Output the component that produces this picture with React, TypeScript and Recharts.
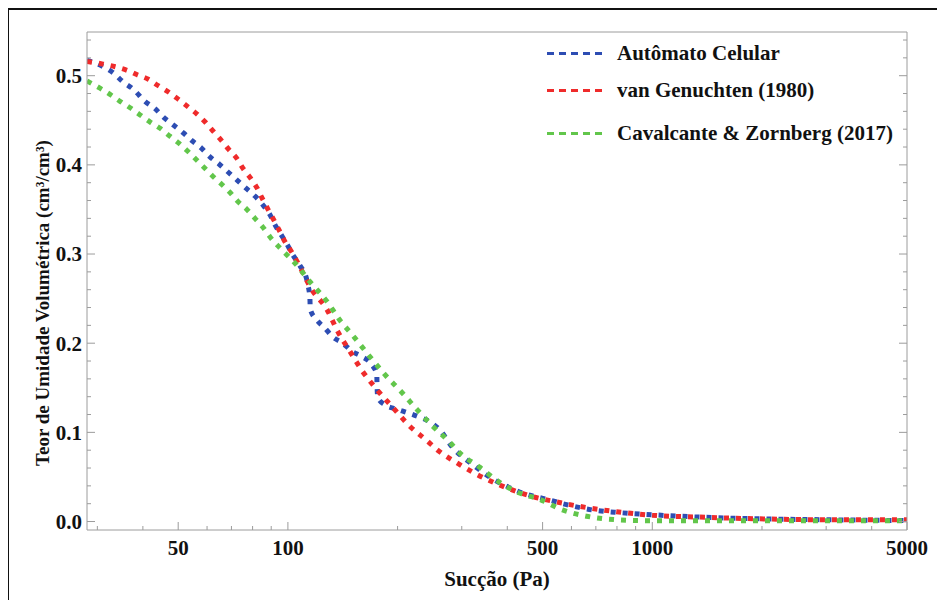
import React from 'react';
import { LineChart, Line, XAxis, YAxis, Legend } from 'recharts';

// Sucção (Pa) / teor de umidade
const automatoSuccao = [28.1, 29.2, 31.5, 33.2, 35.3, 37.6, 40.6, 43.2, 45.7, 48.4, 51.6, 54.6, 57.8, 61.1, 64.7, 68.5, 72.5, 76.7, 81.2, 85.4, 89.3, 92.1, 95.7, 99.4, 103.2, 107.9, 112.4, 113.4, 114.9, 115.2, 120.1, 126.3, 132.8, 141.5, 149.8, 159.5, 169.9, 175.4, 175.6, 176.5, 184.4, 199.0, 213.2, 229.9, 244.9, 260.8, 283.2, 321.3, 357.6, 405.7, 440.4, 512.4, 581.3, 684.7, 812.1, 963, 1345, 1965, 3000, 5000];
const automatoTeor = [0.517, 0.515, 0.509, 0.503, 0.493, 0.485, 0.471, 0.463, 0.453, 0.445, 0.436, 0.427, 0.419, 0.409, 0.401, 0.392, 0.383, 0.374, 0.365, 0.355, 0.344, 0.333, 0.322, 0.311, 0.299, 0.287, 0.273, 0.266, 0.251, 0.238, 0.226, 0.217, 0.207, 0.200, 0.191, 0.185, 0.176, 0.165, 0.154, 0.139, 0.131, 0.126, 0.122, 0.117, 0.112, 0.103, 0.083, 0.064, 0.050, 0.038, 0.032, 0.025, 0.019, 0.013, 0.010, 0.008, 0.005, 0.003, 0.002, 0.001];

const genuchtenSuccao = [28.1, 31.1, 33.6, 36.2, 38.6, 41.4, 44.0, 46.9, 49.9, 53.2, 56.3, 59.3, 62.3, 65.5, 68.9, 72.5, 75.3, 78.7, 82.3, 84.9, 88.2, 92.1, 95.1, 98.1, 102.5, 106.5, 116.3, 127.9, 137.1, 147.9, 160.5, 175.4, 194.0, 215.9, 241.8, 255.9, 290.4, 329.5, 380.9, 469.1, 545.8, 631, 796.9, 1000, 1345, 1965, 3000, 5000];
const genuchtenTeor = [0.516, 0.513, 0.510, 0.506, 0.501, 0.496, 0.489, 0.482, 0.474, 0.465, 0.457, 0.448, 0.438, 0.428, 0.417, 0.407, 0.396, 0.386, 0.374, 0.363, 0.350, 0.336, 0.325, 0.314, 0.302, 0.290, 0.260, 0.238, 0.213, 0.191, 0.168, 0.148, 0.128, 0.107, 0.090, 0.081, 0.066, 0.053, 0.041, 0.028, 0.022, 0.017, 0.011, 0.007, 0.005, 0.003, 0.002, 0.002];

const cavalcanteSuccao = [28.1, 30.5, 32.5, 34.7, 36.9, 39.3, 41.9, 44.6, 47.5, 50.3, 53.2, 56.0, 58.9, 62.3, 65.9, 69.4, 72.9, 77.2, 81.2, 85.4, 89.8, 94.5, 99.4, 104.5, 114.9, 127.9, 138.8, 152.6, 167.8, 184.4, 205.3, 225.6, 249.5, 277.9, 296.0, 335.7, 380.9, 432.1, 490.2, 566.8, 659.5, 796.9, 963, 2000, 5000];
const cavalcanteTeor = [0.494, 0.486, 0.479, 0.471, 0.464, 0.456, 0.448, 0.441, 0.432, 0.424, 0.415, 0.406, 0.397, 0.387, 0.378, 0.369, 0.359, 0.350, 0.340, 0.330, 0.318, 0.308, 0.299, 0.290, 0.269, 0.247, 0.226, 0.206, 0.185, 0.165, 0.145, 0.126, 0.107, 0.089, 0.077, 0.061, 0.044, 0.032, 0.025, 0.013, 0.006, 0.002, 0.001, 0.001, 0.001];

const xTicks = [30, 40, 50, 60, 70, 80, 90, 100, 200, 300, 400, 500, 600, 700, 800, 900, 1000, 2000, 3000, 4000, 5000];
const xMajor = [50, 100, 500, 1000, 5000];
const yTicks = [0, 0.02, 0.04, 0.06, 0.08, 0.1, 0.12, 0.14, 0.16, 0.18, 0.2, 0.22, 0.24, 0.26, 0.28, 0.3, 0.32, 0.34, 0.36, 0.38, 0.4, 0.42, 0.44, 0.46, 0.48, 0.5, 0.52, 0.54];

const series = [
  { name: 'Autômato Celular', color: '#2d4db3', xs: automatoSuccao, ys: automatoTeor },
  { name: 'van Genuchten (1980)', color: '#ef2b2b', xs: genuchtenSuccao, ys: genuchtenTeor },
  { name: 'Cavalcante & Zornberg (2017)', color: '#62c64b', xs: cavalcanteSuccao, ys: cavalcanteTeor },
];

const FONT = '"Liberation Serif", "Times New Roman", serif';
const AXIS = '#9c9c9c';

const isMajorX = (v: number) => xMajor.includes(v);
const isMajorY = (v: number) => Math.abs(v * 10 - Math.round(v * 10)) < 1e-6;

const BottomTick = ({ x, y, payload }: any) => {
  const major = isMajorX(payload.value);
  return (
    <g>
      <line x1={x} x2={x} y1={y} y2={y - (major ? 8 : 4)} stroke={AXIS} />
      {major && (
        <text x={x} y={y + 18} dy="0.35em" textAnchor="middle" fontFamily={FONT} fontWeight="bold" fontSize={21} fill="#111">
          {payload.value}
        </text>
      )}
    </g>
  );
};

const TopTick = ({ x, y, payload }: any) => (
  <line x1={x} x2={x} y1={y} y2={y + (isMajorX(payload.value) ? 8 : 4)} stroke={AXIS} />
);

const LeftTick = ({ x, y, payload }: any) => {
  const major = isMajorY(payload.value);
  return (
    <g>
      <line x1={x} x2={x + (major ? 8 : 4)} y1={y} y2={y} stroke={AXIS} />
      {major && (
        <text x={x - 5} y={y} dy="0.35em" textAnchor="end" fontFamily={FONT} fontWeight="bold" fontSize={21} fill="#111">
          {payload.value.toFixed(1)}
        </text>
      )}
    </g>
  );
};

const RightTick = ({ x, y, payload }: any) => (
  <line x1={x} x2={x - (isMajorY(payload.value) ? 8 : 4)} y1={y} y2={y} stroke={AXIS} />
);

const rowGaps = [0, 11, 17];

const LegendBox = () => (
  <div style={{ fontFamily: FONT, fontWeight: 'bold', fontSize: 21, color: '#111' }}>
    {series.map((s, i) => (
      <div key={s.name} style={{ display: 'flex', alignItems: 'center', height: 26, marginTop: rowGaps[i] }}>
        {[0, 1, 2, 3, 4].map((k) => (
          <span key={k} style={{ display: 'inline-block', width: 7, height: 3, background: s.color, marginRight: k < 4 ? 5 : 15 }} />
        ))}
        <span style={{ whiteSpace: 'nowrap' }}>{s.name}</span>
      </div>
    ))}
  </div>
);

export default function App() {
  const data = series.map((s) => s.xs.map((x, i) => ({ x, y: s.ys[i] })));
  const xDomain: [number, number] = [28.1, 5000];
  const yDomain: [number, number] = [-0.0095, 0.549];

  return (
    <div style={{ position: 'relative', width: 945, height: 608, margin: -8, overflow: 'hidden', background: '#fff' }}>
      <div style={{ position: 'absolute', left: 6, top: 7, width: 1000, height: 1000, borderLeft: '3px solid #111', borderTop: '3px solid #111' }} />
      <div style={{ position: 'absolute', left: 0, top: 0 }}>
        <LineChart width={945} height={608} margin={{ top: 22, right: 28, bottom: 38, left: 27 }}>
          <XAxis
            xAxisId={0}
            dataKey="x"
            type="number"
            scale="log"
            domain={xDomain}
            allowDataOverflow
            ticks={xTicks}
            interval={0}
            tick={<BottomTick />}
            tickLine={false}
            tickSize={0}
            tickMargin={0}
            height={40}
            stroke={AXIS}
            label={{ value: 'Sucção (Pa)', position: 'insideBottom', offset: -16, fontFamily: FONT, fontWeight: 'bold', fontSize: 21, fill: '#111' }}
          />
          <XAxis
            xAxisId="top"
            orientation="top"
            type="number"
            scale="log"
            domain={xDomain}
            allowDataOverflow
            ticks={xTicks}
            interval={0}
            tick={<TopTick />}
            tickLine={false}
            tickSize={0}
            tickMargin={0}
            height={10}
            stroke={AXIS}
          />
          <YAxis
            yAxisId={0}
            type="number"
            domain={yDomain}
            allowDataOverflow
            ticks={yTicks}
            interval={0}
            tick={<LeftTick />}
            tickLine={false}
            tickSize={0}
            tickMargin={0}
            width={60}
            stroke={AXIS}
            label={{ value: 'Teor de Umidade Volumétrica (cm³/cm³)', angle: -90, position: 'insideLeft', offset: 15, dy: 22, fontFamily: FONT, fontWeight: 'bold', fontSize: 19, fill: '#111', style: { textAnchor: 'middle' } }}
          />
          <YAxis
            yAxisId="right"
            orientation="right"
            type="number"
            domain={yDomain}
            allowDataOverflow
            ticks={yTicks}
            interval={0}
            tick={<RightTick />}
            tickLine={false}
            tickSize={0}
            tickMargin={0}
            width={10}
            stroke={AXIS}
          />
          <Legend
            layout="horizontal"
            verticalAlign="middle"
            align="center"
            content={<LegendBox />}
            wrapperStyle={{ position: 'absolute', left: 547, top: 40, width: 380 }}
          />
          {series.map((s, i) => (
            <Line
              key={s.name}
              data={data[i]}
              dataKey="y"
              name={s.name}
              type="monotone"
              stroke={s.color}
              strokeWidth={5}
              strokeDasharray="5 7"
              dot={false}
              activeDot={false}
              isAnimationActive={false}
            />
          ))}
        </LineChart>
      </div>
    </div>
  );
}
